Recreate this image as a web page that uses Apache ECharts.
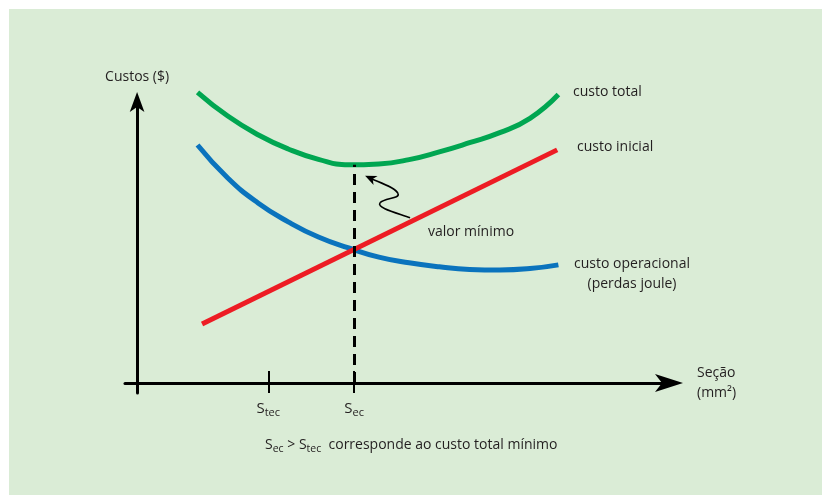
<!DOCTYPE html>
<html><head><meta charset="utf-8">
<script src="https://cdn.jsdelivr.net/npm/echarts@6/dist/echarts.min.js"></script>
<style>html,body{margin:0;padding:0;background:#fff}#c{width:831px;height:502px}</style>
</head><body><div id="c"></div>
<script>
// Section (x) values and costs (y)
const xTotal = [10, 15, 20, 25, 30, 35, 40, 45, 50, 55, 60, 65, 69.7];
const yTotal = [101.4, 93.1, 86.6, 81.6, 78.0, 76.1, 76.4, 77.9, 80.6, 83.8, 87.3, 92.3, 100.6];
const xOper = [10, 15, 20, 25, 30, 35, 40, 45, 50, 55, 60, 65, 69.7];
const yOper = [83.0, 71.5, 62.8, 56.2, 50.9, 47.1, 43.9, 41.9, 40.5, 39.6, 39.4, 39.9, 41.2];
const xInit = [10.75, 69.5];
const yInit = [20.6, 81.3];
const tickValues = [21.7, 35.9];
const tickLabels = ['tec', 'ec'];
const secValue = 35.9;

const FONT = '"Open Sans", sans-serif';
const TXT = '#231f20';
const zip = (a, b) => a.map((v, i) => [v, b[i]]);
const minTotal = Math.min(...yTotal);

const chart = echarts.init(document.getElementById('c'));
const option = {
  backgroundColor: '#ffffff',
  animation: false,
  grid: { left: 125, right: 162, top: 102, bottom: 109, containLabel: false, outerBoundsMode: 'none' },
  xAxis: {
    type: 'value', min: -2, max: 88,
    name: 'Seção\n(mm²)', nameLocation: 'end', nameGap: 28,
    nameTextStyle: { fontFamily: FONT, fontSize: 14, color: TXT, align: 'left', verticalAlign: 'middle', lineHeight: 20, padding: [7, 0, 0, 0] },
    axisLine: { onZero: true, lineStyle: { color: '#000', width: 3 }, symbol: ['none', 'arrow'], symbolSize: [13.5, 28], symbolOffset: [0, 14] },
    axisTick: { show: false },
    splitLine: { show: false },
    axisLabel: {
      customValues: tickValues, margin: 6, color: TXT,
      formatter: function (v) { const i = tickValues.indexOf(v); return '{s|S}{b|' + (i >= 0 ? tickLabels[i] : '') + '}'; },
      rich: {
        s: { fontFamily: FONT, fontSize: 15, color: TXT, verticalAlign: 'middle' },
        b: { fontFamily: FONT, fontSize: 11, color: TXT, verticalAlign: 'middle', padding: [8, 0, 0, 0] }
      }
    }
  },
  yAxis: {
    type: 'value', min: -3.5, max: 98,
    name: 'Custos ($)', nameLocation: 'end', nameGap: 18,
    nameTextStyle: { fontFamily: FONT, fontSize: 14, color: TXT, align: 'center' },
    axisLine: { onZero: true, lineStyle: { color: '#000', width: 3 }, symbol: ['none', 'arrow'], symbolSize: [11, 20], symbolOffset: [0, 10] },
    axisTick: { show: false },
    splitLine: { show: false },
    axisLabel: { show: false }
  },
  series: [
    {
      type: 'line', name: 'custo operacional', data: zip(xOper, yOper), smooth: 0.5, showSymbol: false, clip: false, z: 3,
      lineStyle: { color: '#0a73bd', width: 5 }
    },
    {
      type: 'line', name: 'custo total', data: zip(xTotal, yTotal), smooth: 0.5, showSymbol: false, clip: false, z: 3,
      lineStyle: { color: '#00a651', width: 5 },
      markLine: {
        silent: true, symbol: ['none', 'none'], label: { show: false },
        lineStyle: { color: '#000', width: 3, type: [11, 7] },
        data: [[{ coord: [secValue, 0] }, { coord: [secValue, minTotal] }]]
      }
    },
    {
      type: 'line', name: 'custo inicial', data: zip(xInit, yInit), showSymbol: false, clip: false, z: 4,
      lineStyle: { color: '#ed1c24', width: 5 },
      markLine: {
        silent: true, symbol: ['none', 'none'], label: { show: false },
        lineStyle: { color: '#000', width: 2, type: 'solid' },
        data: tickValues.map(v => [{ coord: [v, -3.5] }, { coord: [v, 4.2] }])
      }
    }
  ]
};
chart.setOption(option);

const P = chart.convertToPixel({ xAxisIndex: 0, yAxisIndex: 0 }, [secValue, minTotal]);
const tstyle = (text, x, y, align) => ({ type: 'text', z: 10, style: { text, x, y, font: '14px ' + FONT, fill: TXT, textAlign: align || 'left', textVerticalAlign: 'middle' } });
const curve = (a, c1, c2, b) => ({ type: 'bezierCurve', shape: { x1: a[0], y1: a[1], cpx1: c1[0], cpy1: c1[1], cpx2: c2[0], cpy2: c2[1], x2: b[0], y2: b[1] }, style: { fill: null, stroke: '#000', lineWidth: 1.6 } });
chart.setOption({
  graphic: [
    { type: 'rect', z: -10, shape: { x: 9, y: 9, width: 813, height: 486 }, style: { fill: '#daecd6' } },
    tstyle('custo total', 573, 92),
    tstyle('custo inicial', 577, 147),
    tstyle('valor mínimo', 428, 232),
    tstyle('custo operacional', 632, 264, 'center'),
    tstyle('(perdas joule)', 632, 284, 'center'),
    {
      type: 'text', z: 10,
      style: {
        x: 265, y: 445, textVerticalAlign: 'middle',
        text: '{s|S}{b|ec}{s| > S}{b|tec}{s|  corresponde ao custo total mínimo}',
        rich: {
          s: { fontFamily: FONT, fontSize: 14, fill: TXT, verticalAlign: 'middle' },
          b: { fontFamily: FONT, fontSize: 10.5, fill: TXT, verticalAlign: 'middle', padding: [8, 0, 0, 0] }
        }
      }
    },
    {
      type: 'group', x: P[0], y: P[1], z: 10,
      children: [
        curve([15, 13], [26, 18], [42, 23], [44, 29]),
        curve([44, 29], [46, 34], [30, 33], [26, 38]),
        curve([26, 38], [22, 43], [42, 48], [56, 53]),
        { type: 'polygon', shape: { points: [[11, 11], [23.5, 11.2], [18.6, 14.3], [19.5, 20.2]] }, style: { fill: '#000' } }
      ]
    }
  ]
});
</script></body></html>
